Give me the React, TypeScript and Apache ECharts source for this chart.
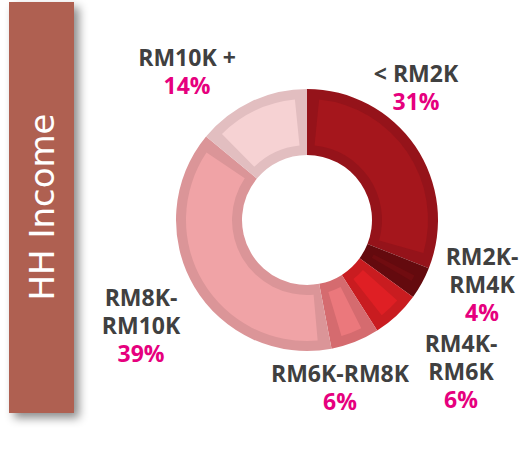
import React, { useEffect, useRef } from "react";
import * as echarts from "echarts";

const categories = ["< RM2K", "RM2K-\nRM4K", "RM4K-\nRM6K", "RM6K-RM8K", "RM8K-\nRM10K", "RM10K +"];
const shares = [31, 4, 6, 6, 39, 14];
const fillColors = ["#A5161C", "#700C10", "#DF1F24", "#EB787C", "#F0A3A6", "#F6D2D3"];
const edgeColors = ["#95131A", "#640A0E", "#C91C20", "#D56B6F", "#DB9598", "#E2BEC0"];
const labelCenters = [
  [416, 87],
  [482, 284],
  [461, 371],
  [340, 387],
  [141, 325],
  [187, 71],
];
const sideTitle = "HH Income";

const FONT = "'Open Sans', 'Noto Sans', sans-serif";

export default function App() {
  const ref = useRef<HTMLDivElement>(null);
  useEffect(() => {
    if (!ref.current) return;
    const chart = echarts.init(ref.current, undefined, { renderer: "svg" });
    const outerData = categories.map((name, i) => ({
      name,
      value: shares[i],
      itemStyle: { color: edgeColors[i] },
    }));
    const innerData = categories.map((name, i) => ({
      name,
      value: shares[i],
      itemStyle: { color: fillColors[i] },
    }));
    const textStyle = (color: string) => ({
      fontFamily: FONT,
      fontWeight: 700,
      fontSize: 23,
      color,
      lineHeight: 28,
    });
    chart.setOption({
      animation: false,
      graphic: [
        {
          type: "rect",
          shape: { x: 9, y: 2, width: 65, height: 411 },
          style: {
            fill: "#AF6151",
            shadowBlur: 10,
            shadowOffsetX: 5,
            shadowOffsetY: 5,
            shadowColor: "rgba(0,0,0,0.45)",
          },
          z: 1,
        },
        {
          type: "text",
          x: 42,
          y: 207,
          rotation: Math.PI / 2,
          style: {
            text: sideTitle,
            fill: "#FFFFFF",
            font: `400 34px 'DejaVu Sans', sans-serif`,
            textAlign: "center",
            textVerticalAlign: "middle",
          },
          z: 2,
        },
      ],
      series: [
        {
          type: "pie",
          center: [307, 220],
          radius: [65, 131],
          startAngle: 90,
          clockwise: true,
          silent: true,
          label: { show: false },
          labelLine: { show: false },
          data: outerData,
          z: 2,
        },
        {
          type: "pie",
          center: [307, 220],
          radius: [75, 121],
          startAngle: 90,
          clockwise: true,
          padAngle: 11.5,
          silent: true,
          avoidLabelOverlap: false,
          labelLine: { show: false },
          label: {
            show: true,
            position: "outside",
            formatter: (p: any) =>
              String(p.name)
                .split("\n")
                .map((l: string) => `{n|${l}}`)
                .join("\n") + `\n{p|${p.value}%}`,
            lineHeight: 28,
            rich: {
              n: textStyle("#404040"),
              p: textStyle("#E6007E"),
            },
          },
          labelLayout: (params: any) => {
            const c = labelCenters[params.dataIndex];
            return {
              x: c[0],
              y: c[1],
              align: "center",
              verticalAlign: "middle",
            };
          },
          data: innerData,
          z: 3,
        },
      ],
    });
    return () => chart.dispose();
  }, []);
  return (
    <div
      ref={ref}
      style={{ position: "fixed", left: 0, top: 0, width: 530, height: 466, background: "#FFFFFF" }}
    />
  );
}
